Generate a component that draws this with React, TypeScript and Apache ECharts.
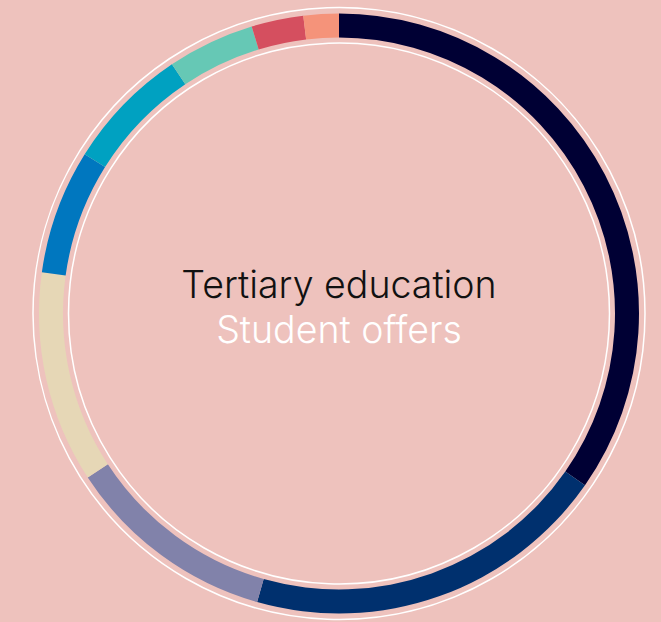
import React, { useEffect, useRef } from "react";
import * as echarts from "echarts";

const categories = [
  "Segment 1",
  "Segment 2",
  "Segment 3",
  "Segment 4",
  "Segment 5",
  "Segment 6",
  "Segment 7",
  "Segment 8",
  "Segment 9",
];
const values = [34.7, 19.7, 11.4, 11.4, 6.7, 6.7, 4.7, 2.8, 1.9];
const colors = [
  "#000034",
  "#00306e",
  "#8182aa",
  "#e6d7b6",
  "#0077bf",
  "#00a1c1",
  "#66c8b5",
  "#d54f5f",
  "#f5937a",
];
const titleLine = "Tertiary education";
const subtitleLine = "Student offers";

const W = 661;
const H = 622;
const CX = 339;
const CY = 313.5;

export default function App() {
  const ref = useRef<HTMLDivElement>(null);
  useEffect(() => {
    if (!ref.current) return;
    const chart = echarts.init(ref.current, null, { renderer: "svg" });
    chart.setOption({
      animation: false,
      backgroundColor: "#eec2bd",
      series: [
        {
          type: "pie",
          center: [CX, CY],
          radius: [276, 300],
          startAngle: 90,
          clockwise: true,
          label: { show: false },
          labelLine: { show: false },
          silent: true,
          itemStyle: { borderWidth: 0 },
          data: categories.map((c, i) => ({
            name: c,
            value: values[i],
            itemStyle: { color: colors[i] },
          })),
        },
      ],
      graphic: [
        {
          type: "circle",
          shape: { cx: CX, cy: CY, r: 306 },
          style: { fill: "none", stroke: "#ffffff", lineWidth: 1.5 },
          silent: true,
        },
        {
          type: "circle",
          shape: { cx: CX, cy: CY, r: 270.5 },
          style: { fill: "none", stroke: "#ffffff", lineWidth: 1.5 },
          silent: true,
        },
        {
          type: "text",
          x: CX,
          y: 303.5,
          style: {
            text: titleLine,
            fill: "#111111",
            font: '300 37.5px "Inter", "Roboto", sans-serif',
            textAlign: "center",
            textVerticalAlign: "bottom",
          },
        },
        {
          type: "text",
          x: CX,
          y: 348.5,
          style: {
            text: subtitleLine,
            fill: "#ffffff",
            font: '300 37.5px "Inter", "Roboto", sans-serif',
            textAlign: "center",
            textVerticalAlign: "bottom",
          },
        },
      ],
    });
    return () => chart.dispose();
  }, []);
  return (
    <div
      ref={ref}
      style={{ position: "fixed", left: 0, top: 0, width: W, height: H }}
    />
  );
}
